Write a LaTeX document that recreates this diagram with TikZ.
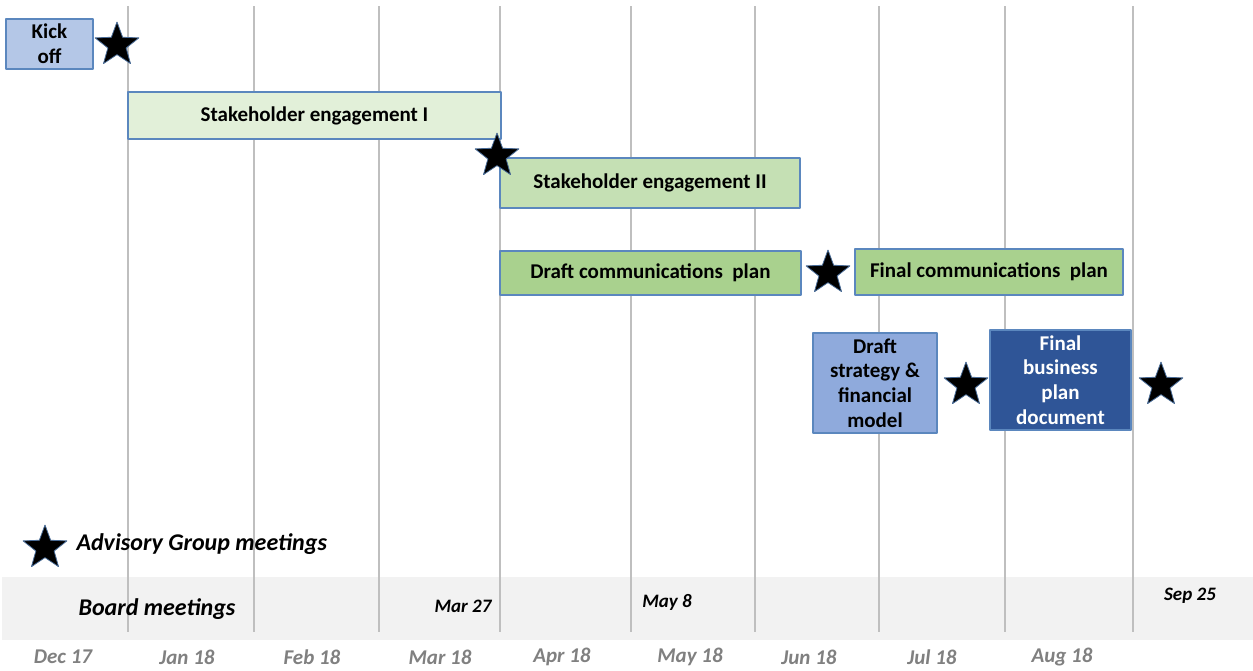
\documentclass[tikz,border=0pt]{standalone}
\usepackage{fontspec}
\setmainfont{Carlito}
\usetikzlibrary{shapes.geometric,positioning}

\definecolor{kickBlue}{HTML}{B4C7E7}
\definecolor{paleGreen}{HTML}{E2F0D9}
\definecolor{lightGreen}{HTML}{C5E0B4}
\definecolor{midGreen}{HTML}{A9D18E}
\definecolor{stratBlue}{HTML}{8FAADC}
\definecolor{darkBlue}{HTML}{2F5597}
\definecolor{boxEdge}{HTML}{5B87BE}
\definecolor{gridGray}{HTML}{BFBFBF}
\definecolor{bandGray}{HTML}{F2F2F2}
\definecolor{monthGray}{HTML}{808080}

\begin{document}
\begin{tikzpicture}[
		x=1pt,y=-1pt,
		line join=round,
		task/.style={draw=boxEdge,line width=1.3pt,inner sep=0pt,align=center,
			font=\fontsize{21}{24.7}\selectfont\bfseries},
		meeting/.style={star,star points=5,star point ratio=2.4,minimum size=46pt,
			inner sep=0pt,fill=black,draw=boxEdge!80!black,line width=0.8pt},
		gridline/.style={gridGray,line width=1.2pt},
		month/.style={text=monthGray,font=\fontsize{21}{24}\selectfont\bfseries\itshape},
		board/.style={font=\fontsize{19}{22}\selectfont\bfseries\itshape}
		]
		\useasboundingbox (0,0) rectangle (1253,670);
		% board meeting band and month grid
		\fill[bandGray] (2,577) rectangle (1253,640);
		\foreach \gx in {128,254,379,500,631,755,879,1005,1133}
		\draw[gridline] (\gx,6) -- (\gx,632);
		\foreach \mx/\mname in {63/Dec 17,187/Jan 18,312/Feb 18,440/Mar 18,562/Apr 18,690/May 18,809/Jun 18,932/Jul 18,1062/Aug 18}
		\node[month] (m\mx) at (\mx,657) {\mname};
		% work packages
		\node[task,fill=kickBlue,minimum width=87pt,minimum height=50pt] (kickoff) at (49.5,44) {Kick\\off};
		\node[task,fill=paleGreen,minimum width=373pt,minimum height=47pt] (engageI) at (314.5,115.5) {Stakeholder engagement I};
		\node[task,fill=lightGreen,minimum width=300pt,minimum height=50pt] (engageII) at (650,183) {Stakeholder engagement II};
		\node[task,fill=midGreen,minimum width=301pt,minimum height=44pt] (draftcomms) at (650.5,273) {Draft communications~ plan};
		\node[task,fill=midGreen,minimum width=268pt,minimum height=46pt] (finalcomms) at (989,272) {Final communications~ plan};
		\node[task,fill=stratBlue,minimum width=124pt,minimum height=100pt] (strategy) at (875,383) {Draft\\strategy \&\\financial\\model};
		\node[task,fill=darkBlue,text=white,minimum width=141pt,minimum height=100pt] (bizplan) at (1060.5,380) {Final\\business\\plan\\document};
		% advisory group meetings
		\node[meeting] (ag1) at (117,45) {};
		\node[meeting] (ag2) at (497,156) {};
		\node[meeting] (ag3) at (828,273) {};
		\node[meeting] (ag4) at (966,385) {};
		\node[meeting] (ag5) at (1161,385) {};
		% legend and board dates
		\node[meeting] (agkey) at (45,548) {};
		\node[anchor=west,font=\fontsize{24}{28}\selectfont\bfseries\itshape] (agtext) at (73,544) {Advisory Group meetings};
		\node[font=\fontsize{24}{28}\selectfont\bfseries\itshape] (boardtext) at (157,609) {Board meetings};
		\node[board] (mar27) at (463,606) {Mar 27};
		\node[board] (may8) at (667,602) {May 8};
		\node[board] (sep25) at (1190,596) {Sep 25};
		\end{tikzpicture}
\end{document}
